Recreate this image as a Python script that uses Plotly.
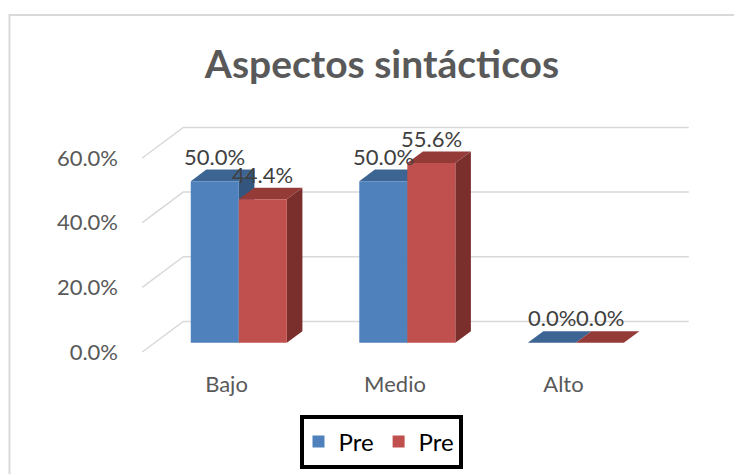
import plotly.graph_objects as go

# ---------------- data ----------------
categories = ["Bajo", "Medio", "Alto"]
series_names = ["Pre", "Pre"]
pre_a = [0.500, 0.500, 0.000]
pre_b = [0.444, 0.556, 0.000]
y_ticks = [0.0, 0.2, 0.4, 0.6]
title_text = "Aspectos sintácticos"

# ---------------- styling / geometry ----------------
OFF = 8                       # page body margin in the browser
W, H = 742 - OFF, 474 - OFF
FONT = "Lato"
front_cols = ["#4F81BD", "#C0504D"]
top_cols = ["#3D6594", "#943B38"]
side_cols = ["#34567E", "#7A2F2D"]
grid_col = "#D9D9D9"

PXX = 168.5          # px per category unit
PXY = 323.3          # px per 1.0 (100%)
X0PX, Y0PX = 226.5 - OFF, 352.0 - OFF
ML, MR, MT, MB = 125 - OFF, 35, 98 - OFF, 110
pw, ph = W - ML - MR, H - MT - MB
xr = [(ML - X0PX) / PXX, (ML + pw - X0PX) / PXX]
yr = [-(MT + ph - Y0PX) / PXY, (Y0PX - MT) / PXY]

# depth of the 3-D box (in data units)
DX, DY = 41 / PXX, 30.6 / PXY
F0, FD = 0.30, 0.38          # bar front offset / bar depth as fraction of box depth
BW = 0.285                   # bar width (units)
base = F0 * DY
shift = F0 * DX
bdx, bdy = FD * DX, FD * DY


def px2paper_x(px):
    return (px - OFF - ML) / pw


def px2paper_y(py):
    return (MT + ph - (py - OFF)) / ph


shapes = []
# back wall gridlines + left diagonals
for v in y_ticks:
    path = (f"M {-0.5},{v} L {-0.5 + DX},{v + DY} L {2.5 + DX},{v + DY}")
    shapes.append(dict(type="path", path=path, xref="x", yref="y",
                       line=dict(color=grid_col, width=1.5), layer="below"))

series = [pre_a, pre_b]
offsets = [-BW / 2, BW / 2]
fig = go.Figure()
annotations = []
for s, vals in enumerate(series):
    xs = [i + shift + offsets[s] for i in range(len(categories))]
    fig.add_trace(go.Bar(
        x=xs, y=vals, base=base, width=BW, name=series_names[s],
        marker=dict(color=front_cols[s], line=dict(width=0)),
        hoverinfo="skip",
    ))
    for xc, v in zip(xs, vals):
        xl, xh = xc - BW / 2, xc + BW / 2
        top = base + v
        side = (f"M {xh},{base} L {xh},{top} L {xh + bdx},{top + bdy} "
                f"L {xh + bdx},{base + bdy} Z")
        shapes.append(dict(type="path", path=side, xref="x", yref="y",
                           fillcolor=side_cols[s], line=dict(width=0), layer="below"))
        topf = (f"M {xl},{top} L {xh},{top} L {xh + bdx},{top + bdy} "
                f"L {xl + bdx},{top + bdy} Z")
        shapes.append(dict(type="path", path=topf, xref="x", yref="y",
                           fillcolor=top_cols[s], line=dict(width=0), layer="below"))
        annotations.append(dict(x=xc, y=top, xref="x", yref="y", yshift=25,
                                text=f"{v * 100:.1f}%", showarrow=False,
                                font=dict(family=FONT, size=22, color="#404040")))

# outer chart border (partially off-canvas, as in the reference)
shapes.append(dict(type="rect", xref="paper", yref="paper",
                   x0=px2paper_x(9.5), x1=px2paper_x(770),
                   y0=px2paper_y(500), y1=px2paper_y(15),
                   line=dict(color=grid_col, width=2), fillcolor="rgba(0,0,0,0)",
                   layer="below"))
# legend frame
shapes.append(dict(type="rect", xref="paper", yref="paper",
                   x0=px2paper_x(302), x1=px2paper_x(461),
                   y0=px2paper_y(467), y1=px2paper_y(417),
                   line=dict(color="#000000", width=4), fillcolor="rgba(0,0,0,0)",
                   layer="above"))

fig.update_layout(
    width=W, height=H,
    margin=dict(l=ML, r=MR, t=MT, b=MB, autoexpand=False),
    paper_bgcolor="white", plot_bgcolor="white",
    barmode="overlay",
    showlegend=True,
    title=dict(text=title_text, xref="container", yref="container",
               x=(382 - OFF) / W, y=1 - (64 - OFF) / H,
               xanchor="center", yanchor="middle",
               font=dict(family=FONT, size=39, color="#595959", weight="bold")),
    xaxis=dict(range=xr, tickvals=list(range(len(categories))), ticktext=categories,
               showgrid=False, zeroline=False, showline=False, ticks="",
               tickfont=dict(family=FONT, size=22, color="#595959"),
               ticklabelstandoff=5, automargin=False, fixedrange=True),
    yaxis=dict(range=yr, tickvals=y_ticks, tickformat=".1%",
               showgrid=False, zeroline=False, showline=False, ticks="",
               tickfont=dict(family=FONT, size=22, color="#595959"),
               ticklabelstandoff=6, automargin=False, fixedrange=True),
    legend=dict(orientation="h", x=px2paper_x(379), y=px2paper_y(442),
                xref="paper", yref="paper",
                xanchor="center", yanchor="middle",
                font=dict(family=FONT, size=24, color="#000000"),
                borderwidth=0, bgcolor="rgba(0,0,0,0)",
                itemwidth=30, traceorder="normal"),
    shapes=shapes,
    annotations=annotations,
)

fig.write_html("out.html")
